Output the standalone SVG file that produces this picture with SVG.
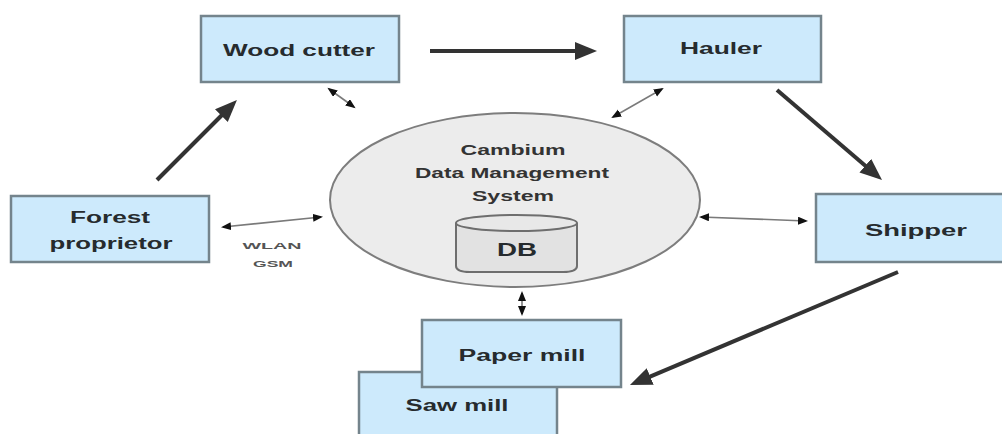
<svg xmlns="http://www.w3.org/2000/svg" width="1002" height="434" viewBox="0 0 1002 434">
<style>
.box{fill:#cdeafc;stroke:#74848c;stroke-width:2.5}
.lbl{font-family:"Liberation Sans",Arial,sans-serif;font-weight:bold;font-size:16px;fill:#262b2e;text-anchor:middle}
.elbl{font-family:"Liberation Sans",Arial,sans-serif;font-weight:bold;font-size:14px;fill:#333;text-anchor:middle}
.small{font-family:"Liberation Sans",Arial,sans-serif;font-weight:bold;font-size:9px;fill:#555;text-anchor:middle}
.thick{stroke:#333;stroke-width:4;fill:none;marker-end:url(#big)}
.thin{stroke:#7a7a7a;stroke-width:1.6;fill:none;marker-start:url(#sm);marker-end:url(#sm)}
</style>
<defs>
<marker id="big" markerUnits="userSpaceOnUse" markerWidth="24" markerHeight="20" refX="15" refY="9" orient="auto">
<path d="M0,0 L22,9 L0,18 z" fill="#333"/>
</marker>
<marker id="sm" markerUnits="userSpaceOnUse" markerWidth="12" markerHeight="10" refX="8" refY="4" orient="auto-start-reverse">
<path d="M0,0 L10,4 L0,8 z" fill="#111"/>
</marker>
</defs>
<rect width="1002" height="434" fill="#fff"/>

<g id="cambium">
<ellipse cx="515" cy="200" rx="185" ry="87" fill="#ececec" stroke="#7d7d7d" stroke-width="2"/>
<text class="elbl" x="513" y="155" textLength="105" lengthAdjust="spacingAndGlyphs">Cambium</text>
<text class="elbl" x="512" y="178" textLength="194" lengthAdjust="spacingAndGlyphs">Data Management</text>
<text class="elbl" x="513" y="201" textLength="82" lengthAdjust="spacingAndGlyphs">System</text>
</g>
<g id="db">
<path d="M456,223 L456,266 Q456,272 470,272 L563,272 Q577,272 577,266 L577,223" fill="#e2e2e2" stroke="#6e6e6e" stroke-width="2"/>
<ellipse cx="516.5" cy="223" rx="60.5" ry="8" fill="#e8e8e8" stroke="#6e6e6e" stroke-width="2"/>
<text class="lbl" x="517" y="256" style="font-size:18px" textLength="40" lengthAdjust="spacingAndGlyphs">DB</text>
</g>

<g id="wood-cutter">
<rect class="box" x="201" y="16" width="198" height="66"/>
<text class="lbl" x="299" y="56" textLength="152" lengthAdjust="spacingAndGlyphs">Wood cutter</text>
</g>
<g id="hauler">
<rect class="box" x="624" y="16" width="197" height="66"/>
<text class="lbl" x="721" y="54" textLength="82" lengthAdjust="spacingAndGlyphs">Hauler</text>
</g>
<g id="forest-proprietor">
<rect class="box" x="11" y="196" width="198" height="66"/>
<text class="lbl" x="110" y="223" textLength="80" lengthAdjust="spacingAndGlyphs">Forest</text>
<text class="lbl" x="111" y="249" textLength="123" lengthAdjust="spacingAndGlyphs">proprietor</text>
</g>
<g id="shipper">
<rect class="box" x="816" y="194" width="202" height="68"/>
<text class="lbl" x="916" y="236" textLength="102" lengthAdjust="spacingAndGlyphs">Shipper</text>
</g>
<g id="saw-mill">
<rect class="box" x="359" y="372" width="198" height="80"/>
<text class="lbl" x="457" y="411" textLength="103" lengthAdjust="spacingAndGlyphs">Saw mill</text>
</g>
<g id="paper-mill">
<rect class="box" x="422" y="320" width="199" height="67"/>
<text class="lbl" x="522" y="361" textLength="127" lengthAdjust="spacingAndGlyphs">Paper mill</text>
</g>

<g id="connectors">
<line class="thick" x1="157" y1="180" x2="232" y2="105"/>
<line class="thick" x1="430" y1="51" x2="590" y2="51"/>
<line class="thick" x1="777" y1="90" x2="876.7" y2="175.4"/>
<line class="thick" x1="898" y1="272" x2="636.4" y2="382.3"/>
<line class="thin" x1="329" y1="89" x2="354" y2="107"/>
<line class="thin" x1="662" y1="89" x2="613" y2="117"/>
<line class="thin" x1="223" y1="227" x2="321" y2="217"/>
<line class="thin" x1="701" y1="217" x2="806" y2="221"/>
<line class="thin" x1="522" y1="293" x2="522" y2="314"/>
<text class="small" x="272" y="249" textLength="59" lengthAdjust="spacingAndGlyphs">WLAN</text>
<text class="small" x="273" y="267" textLength="40" lengthAdjust="spacingAndGlyphs">GSM</text>
</g>
</svg>
